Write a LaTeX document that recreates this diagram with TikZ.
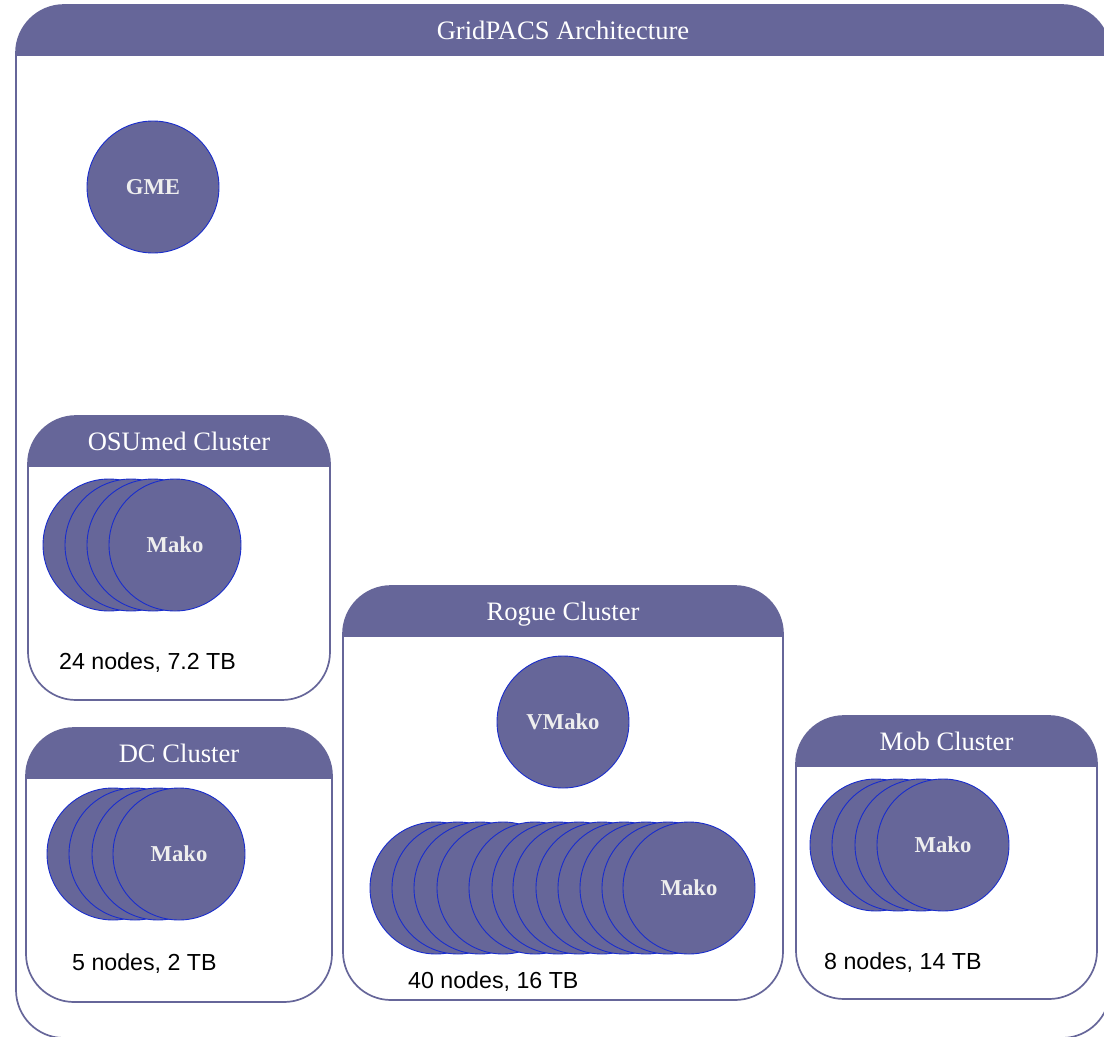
\documentclass[tikz,border=0pt]{standalone}
\usepackage{fontspec}
\setmainfont{Liberation Serif}
\newfontfamily\countfont{Liberation Sans}
\usetikzlibrary{positioning}
\definecolor{gpPurple}{RGB}{102,102,153}
\definecolor{gpRim}{RGB}{25,45,205}
\definecolor{gpText}{RGB}{238,238,238}
% cluster frame: name, x1, y1, x2, y2, header bottom, title
\newcommand{\clusterbox}[7]{%
  \begin{scope}
    \clip[rounded corners=48pt] (#2,#3) rectangle (#4,#5);
    \fill[gpPurple] (#2,#3) rectangle (#4,#6);
  \end{scope}
  \draw[boxline, rounded corners=48pt] (#2,#3) rectangle (#4,#5);
  \node[hdrtext] (#1) at ({(#2+#4)/2},{(#3+#6)/2}) {#7};
}

\begin{document}
\begin{tikzpicture}[x=1pt, y=-1pt,
    boxline/.style={draw=gpPurple, line width=1.7pt},
    hdrtext/.style={text=white, inner sep=0pt, text height=18pt, text depth=0pt,
      font=\fontsize{26.6}{30}\selectfont},
    srv/.style={circle, minimum size=132pt, inner sep=0pt, fill=gpPurple,
      draw=gpRim, line width=0.9pt, text=gpText,
      font=\fontsize{22.7}{26}\selectfont\bfseries},
    count/.style={anchor=west, inner sep=0pt,
      font=\fontsize{23.2}{26}\selectfont\countfont}]
  \useasboundingbox (0,0) rectangle (1104,1037);
  \clip (0,0) rectangle (1104,1037);

  % outer frame
  \clusterbox{arch}{16}{5}{1110}{1038}{56}{GridPACS Architecture}

  \node[srv] (gme) at (153,187) {GME};

  % OSUmed
  \clusterbox{osumed}{28}{416}{330}{700}{467}{OSUmed Cluster}
  \foreach \x [count=\i] in {109,131,153}
    \node[srv] (osu\i) at (\x,545) {};
  \node[srv] (osumako) at (175,545) {Mako};
  \node[count] (osucount) at (59,663) {24 nodes, 7.2 TB};

  % DC
  \clusterbox{dc}{26}{728}{332}{1002}{779}{DC Cluster}
  \foreach \x [count=\i] in {113,135,158}
    \node[srv] (dc\i) at (\x,854) {};
  \node[srv] (dcmako) at (179,854) {Mako};
  \node[count] (dccount) at (72,964) {5 nodes, 2 TB};

  % Rogue
  \clusterbox{rogue}{343}{586}{783}{1000}{637}{Rogue Cluster}
  \node[srv] (vmako) at (563,722) {VMako};
  \foreach \x [count=\i] in {436,458,480,503,535,558,579,602,624,646,668}
    \node[srv] (rog\i) at (\x,888) {};
  \node[srv] (rogmako) at (689,888) {Mako};
  \node[count] (rogcount) at (408,982) {40 nodes, 16 TB};

  % Mob
  \clusterbox{mob}{796}{716}{1097}{999}{767}{Mob Cluster}
  \foreach \x [count=\i] in {876,898,921}
    \node[srv] (mob\i) at (\x,845) {};
  \node[srv] (mobmako) at (943,845) {Mako};
  \node[count] (mobcount) at (824,963) {8 nodes, 14 TB};
\end{tikzpicture}
\end{document}
